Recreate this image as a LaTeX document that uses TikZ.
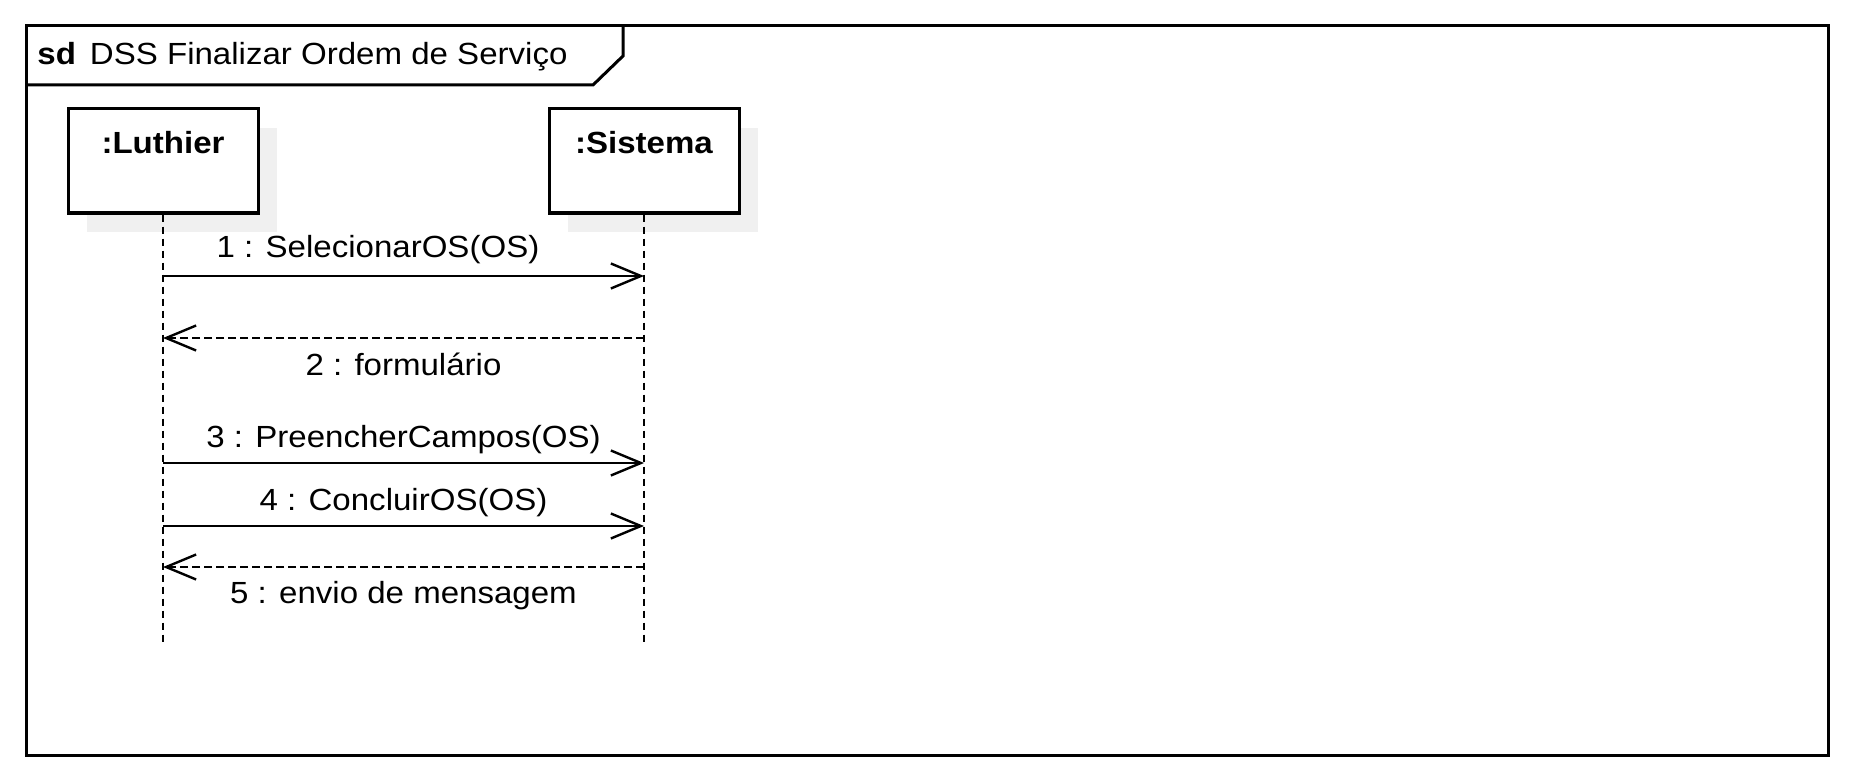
\documentclass[tikz,border=0pt]{standalone}
\usepackage{fontspec}
\setmainfont{Liberation Sans}[FakeStretch=1.08]
\usetikzlibrary{arrows.meta,shadows}

\definecolor{shadowgray}{HTML}{F0F0F0}
\newcommand{\seqfont}{\fontsize{15.3}{18}\selectfont}

\tikzset{
  frameline/.style={line width=1.5pt},
  objbox/.style={draw, fill=white, line width=1.5pt, inner sep=0pt,
    minimum width=95pt, minimum height=52pt,
    drop shadow={shadow xshift=9.5pt, shadow yshift=-9.5pt, fill=shadowgray, opacity=1}},
  objname/.style={anchor=north, yshift=-11.5pt, inner sep=0pt, font=\seqfont\bfseries},
  lifeline/.style={line width=1.2pt, dash pattern=on 3.5pt off 2.5pt},
  call/.style={line width=1.2pt, -{Straight Barb[length=15pt,width=12.5pt,line width=1.2pt]}},
  reply/.style={call, dash pattern=on 4pt off 2pt},
  msgtxt/.style={anchor=base, inner sep=0pt},
}

\begin{document}
\begin{tikzpicture}[x=0.5pt, y=-0.5pt, font=\seqfont]
  \useasboundingbox (0,0) rectangle (1854,781);

  % frame and its tab
  \draw[frameline] (26,26) rectangle (1828,755);
  \draw[frameline] (26,85) -- (593,85) -- (623,56) -- (623,26);
  \node[anchor=base west, inner sep=0pt] (title) at (37,65)
    {\textbf{sd}\hspace{7pt}DSS Finalizar Ordem de Serviço};

  % participants
  \node[objbox, label={[objname]north:{:Luthier}}] (luthier) at (163,161) {};
  \node[objbox, label={[objname]north:{:Sistema}}] (sistema) at (644,161) {};

  \coordinate (luthierend) at (163,646);
  \coordinate (sistemaend) at (644,646);
  \draw[lifeline] (luthier) -- (luthierend);
  \draw[lifeline] (sistema) -- (sistemaend);

  % message ends on the lifelines
  \foreach \n/\y in {1/276,2/338,3/463,4/526,5/567}{
    \coordinate (L\n) at (luthier |- 0,\y);
    \coordinate (S\n) at (sistema |- 0,\y);
  }

  \draw[call] (L1) -- node[msgtxt, pos=0.447, yshift=9.5pt] (m1) {1 : SelecionarOS(OS)} (S1);
  \draw[reply] (S2) -- node[msgtxt, yshift=-18.5pt] (m2) {2 : formulário} (L2);
  \draw[call] (L3) -- node[msgtxt, yshift=8pt] (m3) {3 : PreencherCampos(OS)} (S3);
  \draw[call] (L4) -- node[msgtxt, yshift=8pt] (m4) {4 : ConcluirOS(OS)} (S4);
  \draw[reply] (S5) -- node[msgtxt, yshift=-18pt] (m5) {5 : envio de mensagem} (L5);
\end{tikzpicture}
\end{document}
